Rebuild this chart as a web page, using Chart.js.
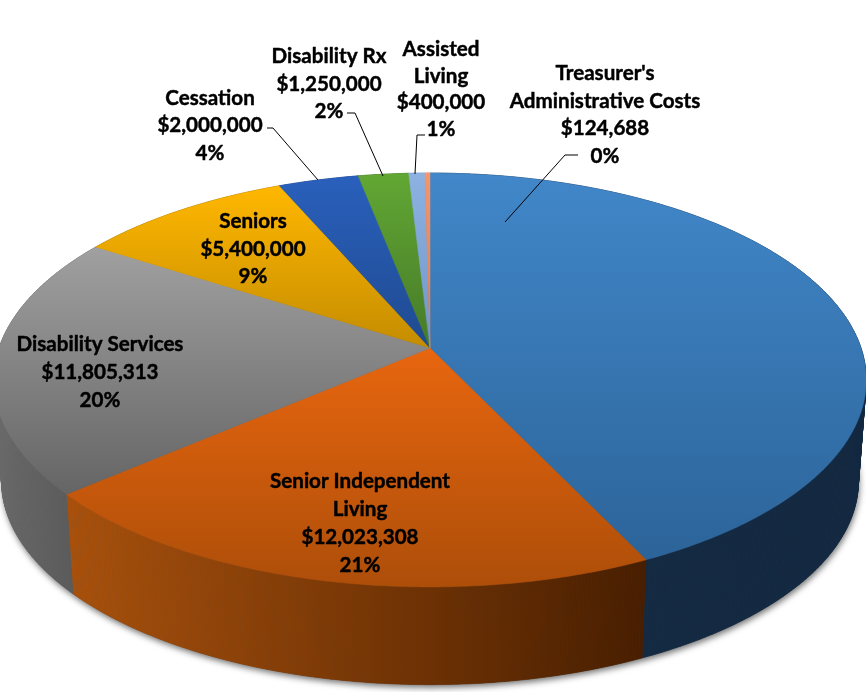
<!DOCTYPE html>
<html><head><meta charset="utf-8">
<style>html,body{margin:0;padding:0;background:#fff;overflow:hidden}canvas{display:block}</style>
<script src="https://cdn.jsdelivr.net/npm/chart.js@4"></script>
</head><body><canvas id="c" width="866" height="692"></canvas>
<script>
// Data
const categories = ["", "Senior Independent Living", "Disability Services", "Seniors", "Cessation", "Disability Rx", "Assisted Living", "Treasurer's Administrative Costs"];
const values = [24800000, 12023308, 11805313, 5400000, 2000000, 1250000, 400000, 124688];
const percents = ["", "21%", "20%", "9%", "4%", "2%", "1%", "0%"];

// Style
const topFrom = ["#4187c9", "#e8660f", "#a0a0a0", "#ffb700", "#2a60bc", "#62a734", "#8db2e2", "#f4956c"];
const topTo   = ["#2c6499", "#ad4e09", "#656565", "#c48c00", "#1f4a90", "#467a28", "#7096c8", "#d9805a"];
const sideFrom = ["#152c44", "#a9510c", "#6a6a6a", "#8a6400", "#173a70", "#325a1c", "#5a7aa0", "#a05030"];
const sideTo   = ["#122840", "#481e00", "#565656", "#8a6400", "#173a70", "#325a1c", "#5a7aa0", "#a05030"];

// Perspective of the disc
const P = {x0: 430, y0: 348, B: 431, A: 202, k: -0.1546, drop: 102, shrink: 0.982};
function project(angle, lower) {
  const t = angle + Math.PI / 2, u = Math.sin(t), v = -Math.cos(t), w = 1 + P.k * v;
  const s = lower ? P.shrink : 1;
  return [P.x0 + s * P.B * u / w, P.y0 + (lower ? P.drop : 0) + s * P.A * v / w];
}
function rim(a0, a1, lower) {
  const n = Math.max(2, Math.ceil(Math.abs(a1 - a0) / 0.008)), pts = [];
  for (let i = 0; i <= n; i++) pts.push(project(a0 + (a1 - a0) * i / n, lower));
  return pts;
}
function trace(ctx, pts) {
  ctx.beginPath();
  pts.forEach((p, i) => i ? ctx.lineTo(p[0], p[1]) : ctx.moveTo(p[0], p[1]));
  ctx.closePath();
}

const pie3d = {
  id: "pie3d",
  beforeDatasetsDraw(chart) {
    const ctx = chart.ctx, arcs = chart.getDatasetMeta(0).data;
    ctx.save();
    // soft shadow under the base
    ctx.save();
    ctx.shadowColor = "rgba(0,0,0,0.55)"; ctx.shadowBlur = 6; ctx.shadowOffsetX = 1; ctx.shadowOffsetY = 3;
    ctx.fillStyle = "#444";
    trace(ctx, rim(-Math.PI / 2, 1.5 * Math.PI, true));
    ctx.fill();
    ctx.restore();
    // walls, one thin strip per step so the silhouette stays the hull of both rims
    arcs.forEach((arc, i) => {
      const up = rim(arc.startAngle, arc.endAngle, false), low = rim(arc.startAngle, arc.endAngle, true);
      const xs = up.concat(low).map(p => p[0]);
      const g = ctx.createLinearGradient(Math.min(...xs), 0, Math.max(...xs), 0);
      g.addColorStop(0, sideFrom[i]); g.addColorStop(1, sideTo[i]);
      ctx.fillStyle = g; ctx.strokeStyle = g; ctx.lineWidth = 0.6;
      for (let j = 0; j + 1 < up.length; j++) {
        trace(ctx, [up[j], up[j + 1], low[j + 1], low[j]]);
        ctx.fill(); ctx.stroke();
      }
    });
    // top face
    arcs.forEach((arc, i) => {
      const pts = [[P.x0, P.y0]].concat(rim(arc.startAngle, arc.endAngle, false));
      const ys = pts.map(p => p[1]);
      const g = ctx.createLinearGradient(0, Math.min(...ys), 0, Math.max(...ys));
      g.addColorStop(0, topFrom[i]); g.addColorStop(1, topTo[i]);
      trace(ctx, pts);
      ctx.fillStyle = g; ctx.strokeStyle = g; ctx.lineWidth = 0.5;
      ctx.fill(); ctx.stroke();
    });
    ctx.restore();
    return false; // the library's flat circle is replaced by the projected one
  },
  afterDraw(chart) {
    const ctx = chart.ctx;
    ctx.save();
    ctx.strokeStyle = "#000"; ctx.lineWidth = 1;
    leaders.forEach(l => {
      ctx.beginPath();
      l.forEach((p, i) => i ? ctx.lineTo(p[0], p[1]) : ctx.moveTo(p[0], p[1]));
      ctx.stroke();
    });
    ctx.fillStyle = "#000"; ctx.font = 'bold 20.6px Lato, "Open Sans", sans-serif';
    ctx.lineWidth = 0.45; ctx.lineJoin = "round";
    ctx.textAlign = "center"; ctx.textBaseline = "middle";
    categories.forEach((c, i) => {
      const pos = labelPos[i];
      if (!pos) return;
      const lines = pos.lines.concat(["$" + values[i].toLocaleString("en-US"), percents[i]]);
      lines.forEach((t, j) => {
        ctx.fillText(t, pos.x, pos.y[j] + 1);
        ctx.strokeText(t, pos.x, pos.y[j] + 1);
      });
    });
    ctx.restore();
  }
};

const labelPos = [
  null,
  {x: 360, y: [480, 508, 536, 564], lines: ["Senior Independent", "Living"]},
  {x: 100, y: [343, 371, 399], lines: ["Disability Services"]},
  {x: 253, y: [220, 248, 275], lines: ["Seniors"]},
  {x: 210, y: [97, 124, 152], lines: ["Cessation"]},
  {x: 329, y: [55, 83, 110], lines: ["Disability Rx"]},
  {x: 441, y: [48, 75, 101, 128], lines: ["Assisted", "Living"]},
  {x: 605, y: [72, 100, 127, 155], lines: ["Treasurer's", "Administrative Costs"]}
];
const leaders = [
  [[267, 128], [273, 128], [318, 180]],
  [[347, 113], [355, 113], [383, 176]],
  [[425, 135], [417, 135], [415, 174]],
  [[578, 155], [565, 155], [505, 222]]
];

new Chart(document.getElementById("c"), {
  type: "pie",
  data: {labels: categories, datasets: [{data: values, backgroundColor: topFrom, borderWidth: 0}]},
  options: {
    responsive: false, animation: false, rotation: 0,
    plugins: {legend: {display: false}, tooltip: {enabled: false}}
  },
  plugins: [pie3d]
});
</script></body></html>
